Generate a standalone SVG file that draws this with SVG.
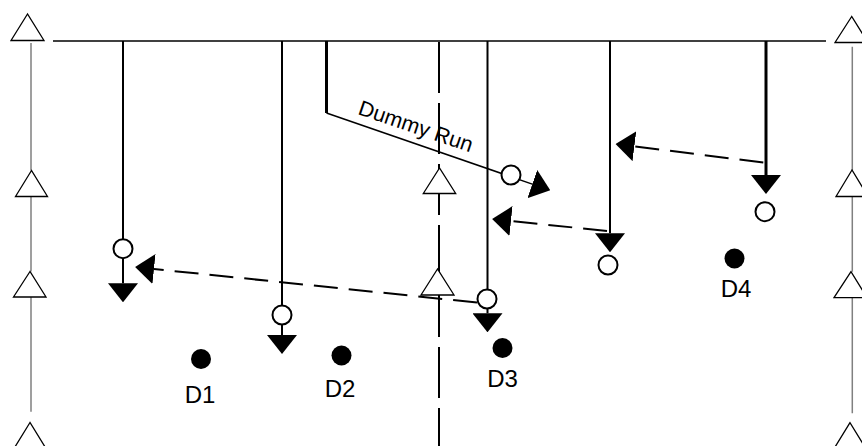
<svg xmlns="http://www.w3.org/2000/svg" width="862" height="446" viewBox="0 0 862 446">
<style>
.tri{fill:#fff;stroke:#000;stroke-width:1.3}
.gray{stroke:#808080;stroke-width:1.5;fill:none}
.ln{stroke:#000;stroke-width:2;fill:none}
.thick{stroke:#000;stroke-width:3;fill:none}
.dash{stroke:#000;stroke-width:2;fill:none;stroke-dasharray:24 11}
.ring{fill:#fff;stroke:#000;stroke-width:2}
.dot{fill:#000}
.lbl{font-family:"Liberation Sans",Arial,sans-serif;font-size:24px;fill:#000;text-anchor:middle}
.note{font-family:"Liberation Sans",Arial,sans-serif;font-size:21.5px;fill:#000}
</style>
<defs>
<marker id="ah" viewBox="0 0 19 30" refX="0" refY="15" markerWidth="19" markerHeight="30" markerUnits="userSpaceOnUse" orient="auto"><path d="M0,0 L19,15 L0,30 Z" fill="#000"/></marker>
</defs>
<g id="left-rail">
<path class="gray" d="M31,43 V170.5 M31,196.5 V271.5 M31,297 V411.7"/>
<polygon class="tri" points="27.5,14 11,40.5 44,40.5"/>
<polygon class="tri" points="31.5,170.5 15.5,196.5 47.5,196.5"/>
<polygon class="tri" points="30,271.5 13.5,297 46,297"/>
<polygon class="tri" points="30,422.5 14,448.5 46,448.5"/>
</g>
<g id="right-rail">
<path class="gray" d="M852.3,46.7 V170 M852.3,196.7 V271.7 M852.3,297.7 V413.3"/>
<polygon class="tri" points="851.7,16.5 835,42.5 868,42.5"/>
<polygon class="tri" points="852,170 836,196.5 868,196.5"/>
<polygon class="tri" points="851,271.7 834,297.7 867,297.7"/>
<polygon class="tri" points="850,422.7 834,448.7 866,448.7"/>
</g>
<g id="centre-line">
<path class="ln" d="M439,42 V446" stroke-dasharray="51 10"/>
<polygon class="tri" points="439.5,168 423.3,193.5 455.7,193.5"/>
<polygon class="tri" points="437.5,269 421,295 454,295"/>
</g>
<g id="top-line">
<path stroke="#000" stroke-width="1.6" d="M53,41 H826"/>
</g>
<g id="connectors">
<path class="ln" d="M123,41 V283.3" marker-end="url(#ah)"/>
<path class="ln" d="M282,41 V335" marker-end="url(#ah)"/>
<path class="thick" d="M326.5,41 V113"/>
<path stroke="#000" stroke-width="1.5" fill="none" d="M326.5,113 L532.3,184.1" marker-end="url(#ah)"/>
<path class="ln" d="M487.5,41 V313.3" marker-end="url(#ah)"/>
<path class="ln" d="M610,41 V233.3" marker-end="url(#ah)"/>
<path class="thick" d="M766,41 V175" marker-end="url(#ah)"/>
<path class="dash" d="M477,302.5 L154,269" marker-end="url(#ah)"/>
<path class="dash" d="M607,231 L511,221" marker-end="url(#ah)"/>
<path class="dash" d="M763.3,162.5 L634.4,146.3" marker-end="url(#ah)"/>
</g>
<g id="players">
<circle class="ring" cx="123" cy="248.7" r="9.5"/>
<circle class="ring" cx="282" cy="315" r="9.5"/>
<circle class="ring" cx="511" cy="175" r="9.5"/>
<circle class="ring" cx="487" cy="299" r="9.5"/>
<circle class="ring" cx="608" cy="265" r="9.5"/>
<circle class="ring" cx="765" cy="211.7" r="9.5"/>
</g>
<g id="D1"><circle class="dot" cx="201" cy="359" r="10"/><text class="lbl" x="200" y="403">D1</text></g>
<g id="D2"><circle class="dot" cx="341.5" cy="355.5" r="10"/><text class="lbl" x="340" y="397">D2</text></g>
<g id="D3"><circle class="dot" cx="502.5" cy="348" r="10"/><text class="lbl" x="502.5" y="387">D3</text></g>
<g id="D4"><circle class="dot" cx="734.5" cy="258.5" r="10"/><text class="lbl" x="736" y="297">D4</text></g>
<g id="dummy-run-label"><text class="note" x="357" y="114" transform="rotate(18.7 357 114)">Dummy Run</text></g>
</svg>
